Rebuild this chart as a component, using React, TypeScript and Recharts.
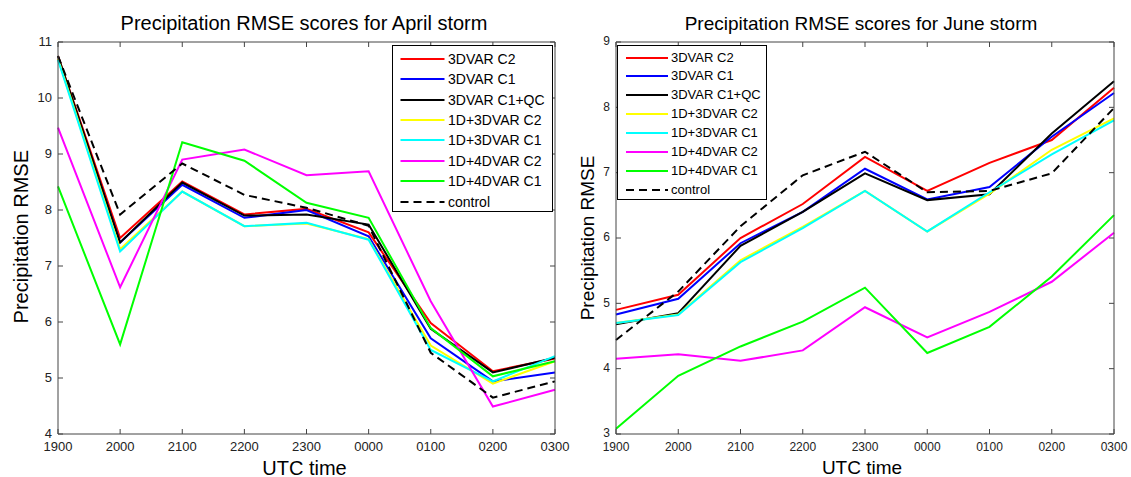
import React from 'react';
import { LineChart, Line, XAxis, YAxis, Legend } from 'recharts';

const FONT = "Arial, 'Liberation Sans', Helvetica, sans-serif";
const AX = '#444';

const times = ['1900', '2000', '2100', '2200', '2300', '0000', '0100', '0200', '0300'];
const seriesKeys = ['c2', 'c1', 'qc', 'd3c2', 'd3c1', 'd4c2', 'd4c1', 'ctrl'];
const seriesNames = ['3DVAR C2', '3DVAR C1', '3DVAR C1+QC', '1D+3DVAR C2', '1D+3DVAR C1', '1D+4DVAR C2', '1D+4DVAR C1', 'control'];
const seriesColors = ['#ff0000', '#0000ff', '#000000', '#ffff00', '#00ffff', '#ff00ff', '#00ff00', '#000000'];

// April storm
const aprilC2 = [10.75, 7.5, 8.51, 7.92, 8.02, 7.6, 5.98, 5.12, 5.35];
const aprilC1 = [10.7, 7.42, 8.45, 7.86, 8.0, 7.53, 5.71, 4.94, 5.1];
const aprilC1QC = [10.75, 7.42, 8.49, 7.9, 7.92, 7.74, 5.88, 5.1, 5.36];
const aprilD3C2 = [10.7, 7.3, 8.33, 7.71, 7.76, 7.48, 5.58, 4.9, 5.3];
const aprilD3C1 = [10.68, 7.26, 8.33, 7.71, 7.77, 7.47, 5.5, 4.94, 5.39];
const aprilD4C2 = [9.47, 6.62, 8.9, 9.08, 8.62, 8.69, 6.37, 4.49, 4.79];
const aprilD4C1 = [8.42, 5.6, 9.21, 8.88, 8.13, 7.86, 5.89, 5.03, 5.3];
const aprilCtrl = [10.75, 7.92, 8.83, 8.27, 8.04, 7.72, 5.45, 4.65, 4.94];

// June storm
const juneC2 = [4.9, 5.13, 6.0, 6.52, 7.24, 6.72, 7.15, 7.5, 8.3];
const juneC1 = [4.83, 5.07, 5.92, 6.4, 7.06, 6.59, 6.78, 7.55, 8.22];
const juneC1QC = [4.68, 4.85, 5.88, 6.4, 6.99, 6.58, 6.67, 7.6, 8.4];
const juneD3C2 = [4.7, 4.83, 5.66, 6.17, 6.72, 6.1, 6.68, 7.35, 7.83];
const juneD3C1 = [4.7, 4.82, 5.63, 6.15, 6.72, 6.1, 6.7, 7.28, 7.8];
const juneD4C2 = [4.15, 4.22, 4.12, 4.28, 4.94, 4.48, 4.87, 5.33, 6.08];
const juneD4C1 = [3.08, 3.89, 4.34, 4.72, 5.24, 4.24, 4.64, 5.41, 6.35];
const juneCtrl = [4.44, 5.18, 6.18, 6.96, 7.32, 6.7, 6.72, 6.99, 7.99];

const aprilTicks = [4, 5, 6, 7, 8, 9, 10, 11];
const juneTicks = [3, 4, 5, 6, 7, 8, 9];

function buildRows(cols: number[][]) {
  return times.map((t, i) => {
    const r: any = { t };
    seriesKeys.forEach((k, j) => {
      r[k] = cols[j][i];
    });
    return r;
  });
}

const aprilRows = buildRows([aprilC2, aprilC1, aprilC1QC, aprilD3C2, aprilD3C1, aprilD4C2, aprilD4C1, aprilCtrl]);
const juneRows = buildRows([juneC2, juneC1, juneC1QC, juneD3C2, juneD3C1, juneD4C2, juneD4C1, juneCtrl]);

type LegCfg = { left: number; top: number; w: number; h: number; rowTop: number; rowGap: number; lx1: number; lx2: number; tx: number; fs: number };

function LegendBox({ cfg }: { cfg: LegCfg }) {
  return (
    <div
      style={{
        width: cfg.w,
        height: cfg.h,
        border: '1px solid #000',
        background: '#fff',
        boxSizing: 'border-box',
        position: 'relative',
        fontFamily: FONT,
        fontSize: cfg.fs,
        color: '#000',
      }}
    >
      {seriesNames.map((n, i) => (
        <div key={n} style={{ position: 'absolute', left: 0, top: cfg.rowTop + i * cfg.rowGap - 10, height: 20, width: cfg.w }}>
          <svg width={cfg.lx2 + 2} height={20} style={{ position: 'absolute', left: 0, top: 0 }}>
            <line
              x1={cfg.lx1}
              x2={cfg.lx2}
              y1={10}
              y2={10}
              stroke={seriesColors[i]}
              strokeWidth={2}
              strokeDasharray={i === 7 ? '8 5' : undefined}
            />
          </svg>
          <span style={{ position: 'absolute', left: cfg.tx, top: 0, lineHeight: '20px', whiteSpace: 'nowrap' }}>{n}</span>
        </div>
      ))}
    </div>
  );
}

type PanelProps = {
  rows: any[];
  width: number;
  domain: [number, number];
  ticks: number[];
  margin: { top: number; right: number; bottom: number; left: number };
  tickFont: number;
  leg: LegCfg;
};

function Panel({ rows, width, domain, ticks, margin, tickFont, leg }: PanelProps) {
  const tickStyle = { fill: '#222', fontSize: tickFont, fontFamily: FONT };
  return (
    <LineChart width={width} height={477} data={rows} margin={margin}>
      <XAxis
        xAxisId="b"
        dataKey="t"
        orientation="bottom"
        height={30}
        tickSize={-5}
        tickMargin={13}
        stroke={AX}
        tick={tickStyle}
        interval={0}
      />
      <XAxis
        xAxisId="tp"
        dataKey="t"
        orientation="top"
        height={1}
        tickSize={-5}
        tickFormatter={() => ''}
        stroke={AX}
        interval={0}
      />
      <YAxis
        yAxisId="l"
        domain={domain}
        ticks={ticks}
        type="number"
        width={40}
        tickSize={-5}
        tickMargin={11}
        stroke={AX}
        tick={{ ...tickStyle, dy: -1 }}
        interval={0}
        allowDataOverflow
      />
      <YAxis
        yAxisId="r"
        orientation="right"
        domain={domain}
        ticks={ticks}
        type="number"
        width={1}
        tickSize={-5}
        tickFormatter={() => ''}
        stroke={AX}
        interval={0}
        allowDataOverflow
      />
      {seriesKeys.map((k, i) => (
        <Line
          key={k}
          xAxisId="b"
          yAxisId="l"
          type="linear"
          dataKey={k}
          name={seriesNames[i]}
          stroke={seriesColors[i]}
          strokeWidth={2}
          strokeDasharray={k === 'ctrl' ? '8 5' : undefined}
          dot={false}
          activeDot={false}
          isAnimationActive={false}
        />
      ))}
      <Legend
        layout="horizontal"
        verticalAlign="middle"
        align="center"
        wrapperStyle={{ position: 'absolute', left: leg.left, top: leg.top, width: leg.w, height: leg.h }}
        content={() => <LegendBox cfg={leg} />}
      />
    </LineChart>
  );
}

const aprilLegend: LegCfg = { left: 391.5, top: 45, w: 161, h: 167, rowTop: 12.7, rowGap: 20.4, lx1: 7.5, lx2: 51.5, tx: 55.5, fs: 14 };
const juneLegend: LegCfg = { left: 47, top: 45, w: 150, h: 155, rowTop: 11.5, rowGap: 18.9, lx1: 8, lx2: 50, tx: 53, fs: 13 };

export default function App() {
  return (
    <div style={{ position: 'absolute', left: 0, top: 0, width: 1131, height: 477, background: '#fff', overflow: 'hidden' }}>
      <div style={{ position: 'absolute', left: 0, top: 0 }}>
        <Panel
          rows={aprilRows}
          width={570}
          domain={[4, 11]}
          ticks={aprilTicks}
          margin={{ top: 41, right: 14, bottom: 13, left: 18 }}
          tickFont={13}
          leg={aprilLegend}
        />
      </div>
      <div style={{ position: 'absolute', left: 570, top: 0 }}>
        <Panel
          rows={juneRows}
          width={561}
          domain={[3, 9]}
          ticks={juneTicks}
          margin={{ top: 41, right: 16, bottom: 13, left: 6 }}
          tickFont={12}
          leg={juneLegend}
        />
      </div>
      <svg width={1131} height={477} style={{ position: 'absolute', left: 0, top: 0, pointerEvents: 'none' }}>
        <g fontFamily={FONT} fill="#000">
          <text x={304} y={29.5} fontSize={20} textAnchor="middle">Precipitation RMSE scores for April storm</text>
          <text x={861} y={29.5} fontSize={19} textAnchor="middle">Precipitation RMSE scores for June storm</text>
          <text transform="translate(28,236.7) rotate(-90)" fontSize={20} textAnchor="middle">Precipitation RMSE</text>
          <text transform="translate(594,238) rotate(-90)" fontSize={19} textAnchor="middle">Precipitation RMSE</text>
          <text x={304.5} y={474.5} fontSize={20} textAnchor="middle">UTC time</text>
          <text x={862} y={473.6} fontSize={19} textAnchor="middle">UTC time</text>
        </g>
      </svg>
    </div>
  );
}
